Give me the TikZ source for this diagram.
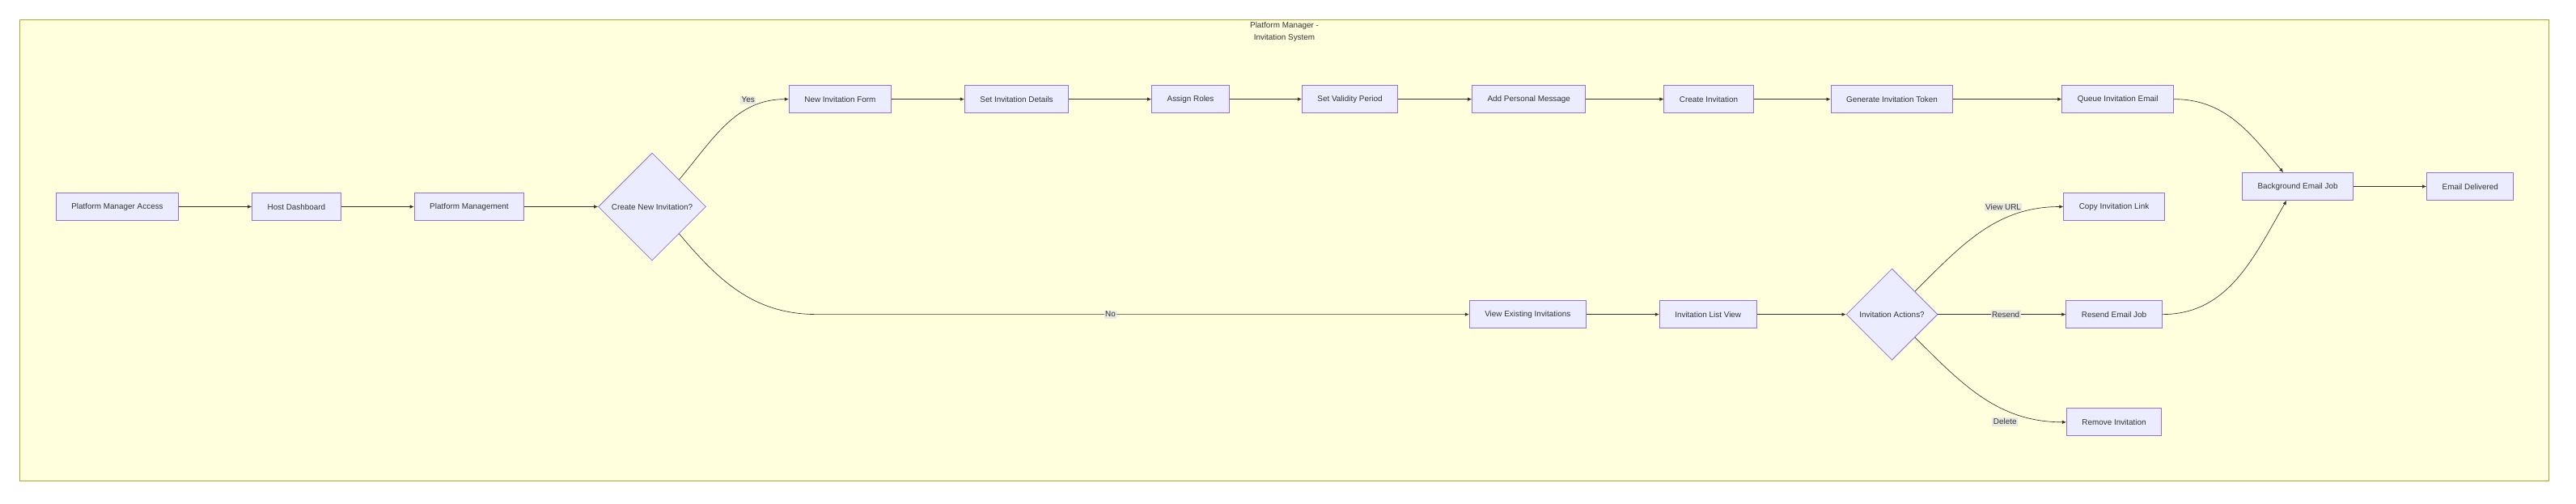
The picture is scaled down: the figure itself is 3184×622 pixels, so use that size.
\documentclass[tikz,border=0pt]{standalone}
\usepackage{fontspec}
\setmainfont{Liberation Sans}
\usepackage{tikz}
\usetikzlibrary{
  arrows.meta,
  positioning,
  shapes.geometric,
}
\definecolor{mmdnode}{RGB}{236, 236, 255}
\definecolor{mmdborder}{RGB}{147, 112, 219}
\definecolor{mmdcluster}{RGB}{255, 255, 222}
\definecolor{mmdclusterline}{RGB}{170, 170, 51}
\definecolor{mmdtext}{RGB}{51, 51, 51}
\definecolor{mmdlabel}{RGB}{232, 232, 226}
\tikzstyle{box} = [
  rectangle,
  draw=mmdborder,
  fill=mmdnode,
  line width=1pt,
  minimum height=34pt,
  inner xsep=19pt,
  text=mmdtext,
]
\tikzstyle{decision} = [
  diamond,
  draw=mmdborder,
  fill=mmdnode,
  line width=0.8pt,
  inner sep=0pt,
  text=mmdtext,
]
\tikzstyle{flow} = [
  -{Latex[length=5pt,width=4.5pt]},
  line width=0.65pt,
  draw=mmdtext,
]
\tikzstyle{edgelabel} = [
  fill=mmdlabel,
  inner sep=1.5pt,
  text=mmdtext,
]

\begin{document}
\begin{tikzpicture}[x=1pt,y=1pt,node distance=90pt,font=\fontsize{9.9pt}{12pt}\selectfont]
			\useasboundingbox (0,0) rectangle (3184,-622);
			% subgraph frame
			\draw[draw=mmdclusterline,fill=mmdcluster,line width=1pt] (24.7,-24.6) rectangle (3150.6,-594);
			\node[text=mmdtext,align=center,font=\fontsize{9.9pt}{15pt}\selectfont] (title) at (1587.5,-39.2) {Platform Manager -\\Invitation System};

			% entry chain
			\node[box] (access) at (145,-255.5) {Platform Manager Access};
			\node[box] (dash) [right=90pt of access] {Host Dashboard};
			\node[box] (mgmt) [right=90pt of dash] {Platform Management};
			\node[decision,minimum width=133pt,minimum height=133pt] (create?) [right=91pt of mgmt] {Create New Invitation?};

			% new invitation
			\node[box] (form) at (1038.4,-122.6) {New Invitation Form};
			\node[box] (details) [right=90pt of form] {Set Invitation Details};
			\node[box] (roles) [right=102pt of details] {Assign Roles};
			\node[box] (validity) [right=89pt of roles] {Set Validity Period};
			\node[box] (message) [right=91pt of validity] {Add Personal Message};
			\node[box] (invite) [right=96pt of message] {Create Invitation};
			\node[box] (token) [right=95pt of invite] {Generate Invitation Token};
			\node[box] (queue) [right=134pt of token] {Queue Invitation Email};
			\node[box] (bgjob) at (2840.1,-230.5) {Background Email Job};
			\node[box] (delivered) [right=90pt of bgjob] {Email Delivered};

			% existing invitations
			\node[box] (existing) at (1888.3,-388.6) {View Existing Invitations};
			\node[box] (list) [right=90pt of existing] {Invitation List View};
			\node[decision,minimum width=113pt,minimum height=113pt] (actions?) [right=110pt of list] {Invitation Actions?};
			\node[box] (copylink) at (2613,-255.5) {Copy Invitation Link};
			\node[box] (resend) at (2613,-388.6) {Resend Email Job};
			\node[box] (remove) at (2613,-521.8) {Remove Invitation};

			\draw[flow] (access) -- (dash);
			\draw[flow] (dash) -- (mgmt);
			\draw[flow] (mgmt) -- (create?);
			\draw[flow] (create?.north east) to[out=50,in=180] node[edgelabel,pos=0.7,yshift=11pt] {Yes} (form);
			\draw[flow] (create?.south east) to[out=-50,in=180] ([xshift=-806pt]existing.west) -- node[edgelabel,pos=0.45] {No} (existing);
			\draw[flow] (form) -- (details);
			\draw[flow] (details) -- (roles);
			\draw[flow] (roles) -- (validity);
			\draw[flow] (validity) -- (message);
			\draw[flow] (message) -- (invite);
			\draw[flow] (invite) -- (token);
			\draw[flow] (token) -- (queue);
			\draw[flow] (queue) to[out=0,in=130] ([xshift=-18pt]bgjob.north);
			\draw[flow] (bgjob) -- (delivered);
			\draw[flow] (existing) -- (list);
			\draw[flow] (list) -- (actions?);
			\draw[flow] (actions?.north east) to[out=45,in=180] node[edgelabel,pos=0.65,yshift=15pt] {View URL} (copylink);
			\draw[flow] (actions?) -- node[edgelabel,pos=0.53] {Resend} (resend);
			\draw[flow] (actions?.south east) to[out=-45,in=180] node[edgelabel,pos=0.65,yshift=-15pt] {Delete} (remove);
			\draw[flow] (resend) to[out=0,in=-120] ([xshift=-14pt]bgjob.south);
		\end{tikzpicture}
\end{document}
